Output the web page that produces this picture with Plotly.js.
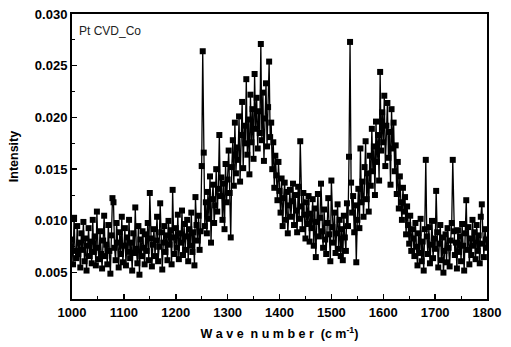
<!DOCTYPE html>
<html>
<head>
<meta charset="utf-8">
<script src="https://cdn.plot.ly/plotly-3.0.1.min.js"></script>
<style>html,body{margin:0;padding:0;background:#fff;}#chart{width:511px;height:347px;}</style>
</head>
<body>
<div id="chart"></div>
<script>
// Wave number start / step (cm^-1)
const waveStart = 1000;
const waveStep = 2;
// Intensity values, one per 2 cm^-1 from 1000 to 1800
const intensity1000 = [0.0082,0.0058,0.0103,0.0071,0.0064,0.0095,0.0068,0.0079,0.0055,0.0088,
  0.0072,0.0099,0.0061,0.0083,0.0052,0.0076,0.0093,0.0066,0.0080,0.0059,
  0.0101,0.0070,0.0085,0.0057,0.0109,0.0074,0.0063,0.0090,0.0068,0.0054,
  0.0081,0.0105,0.0066,0.0077,0.0058,0.0096,0.0071,0.0049,0.0086,0.0122,
  0.0118,0.0074,0.0062,0.0098,0.0079,0.0055,0.0089,0.0068,0.0104,0.0060];
const intensity1100 = [0.0076,0.0093,0.0057,0.0084,0.0070,0.0101,0.0064,0.0079,0.0052,0.0088,
  0.0069,0.0113,0.0073,0.0059,0.0095,0.0048,0.0082,0.0066,0.0090,0.0074,
  0.0058,0.0087,0.0071,0.0098,0.0062,0.0127,0.0083,0.0056,0.0077,0.0092,
  0.0066,0.0081,0.0104,0.0061,0.0075,0.0117,0.0089,0.0053,0.0079,0.0095,
  0.0070,0.0086,0.0062,0.0100,0.0077,0.0091,0.0058,0.0130,0.0084,0.0068];
const intensity1200 = [0.0093,0.0074,0.0106,0.0063,0.0088,0.0079,0.0110,0.0067,0.0097,0.0072,
  0.0085,0.0101,0.0061,0.0092,0.0076,0.0108,0.0070,0.0089,0.0057,0.0123,
  0.0096,0.0081,0.0105,0.0072,0.0090,0.0153,0.0264,0.0166,0.0095,0.0118,
  0.0088,0.0128,0.0102,0.0143,0.0079,0.0121,0.0135,0.0098,0.0115,0.0150,
  0.0109,0.0131,0.0183,0.0124,0.0142,0.0101,0.0136,0.0092,0.0155,0.0118];
const intensity1300 = [0.0140,0.0168,0.0127,0.0084,0.0152,0.0178,0.0134,0.0195,0.0146,0.0171,
  0.0159,0.0201,0.0138,0.0183,0.0215,0.0151,0.0192,0.0175,0.0237,0.0164,
  0.0198,0.0145,0.0222,0.0176,0.0208,0.0160,0.0242,0.0189,0.0219,0.0170,
  0.0206,0.0185,0.0271,0.0178,0.0224,0.0158,0.0199,0.0233,0.0172,0.0210,
  0.0254,0.0181,0.0195,0.0150,0.0176,0.0132,0.0163,0.0144,0.0120,0.0157];
const intensity1400 = [0.0129,0.0108,0.0141,0.0095,0.0122,0.0137,0.0101,0.0128,0.0088,0.0115,
  0.0130,0.0104,0.0119,0.0136,0.0096,0.0125,0.0110,0.0089,0.0133,0.0102,
  0.0177,0.0114,0.0092,0.0127,0.0106,0.0083,0.0118,0.0097,0.0124,0.0080,
  0.0107,0.0093,0.0121,0.0076,0.0112,0.0065,0.0099,0.0126,0.0085,0.0103,
  0.0136,0.0090,0.0074,0.0111,0.0082,0.0068,0.0098,0.0122,0.0087,0.0061];
const intensity1500 = [0.0139,0.0094,0.0079,0.0108,0.0069,0.0088,0.0116,0.0073,0.0101,0.0066,
  0.0092,0.0062,0.0105,0.0084,0.0071,0.0117,0.0095,0.0162,0.0273,0.0137,
  0.0108,0.0124,0.0089,0.0115,0.0060,0.0101,0.0131,0.0093,0.0170,0.0118,
  0.0138,0.0104,0.0152,0.0177,0.0121,0.0146,0.0109,0.0163,0.0134,0.0189,
  0.0148,0.0172,0.0125,0.0196,0.0157,0.0183,0.0139,0.0244,0.0168,0.0205];
const intensity1600 = [0.0176,0.0221,0.0153,0.0192,0.0214,0.0161,0.0186,0.0135,0.0208,0.0170,
  0.0195,0.0148,0.0173,0.0126,0.0157,0.0112,0.0143,0.0118,0.0101,0.0132,
  0.0109,0.0123,0.0087,0.0114,0.0096,0.0078,0.0105,0.0071,0.0092,0.0083,
  0.0066,0.0098,0.0075,0.0057,0.0088,0.0069,0.0102,0.0061,0.0080,0.0052,
  0.0092,0.0159,0.0085,0.0068,0.0094,0.0059,0.0077,0.0100,0.0064,0.0083];
const intensity1700 = [0.0073,0.0129,0.0089,0.0055,0.0078,0.0096,0.0062,0.0084,0.0050,0.0071,
  0.0087,0.0060,0.0093,0.0074,0.0056,0.0081,0.0098,0.0159,0.0090,0.0067,
  0.0079,0.0054,0.0091,0.0070,0.0085,0.0061,0.0097,0.0076,0.0052,0.0088,
  0.0120,0.0072,0.0094,0.0058,0.0083,0.0067,0.0101,0.0076,0.0089,0.0063,
  0.0096,0.0071,0.0086,0.0059,0.0104,0.0116,0.0078,0.0065,0.0092,0.0082,
  0.0074];
const xTickVals = [1000,1100,1200,1300,1400,1500,1600,1700,1800];
const yTickVals = [0.005,0.010,0.015,0.020,0.025,0.030];
const sampleLabel = "Pt CVD_Co";

const intensity = [].concat(intensity1000, intensity1100, intensity1200, intensity1300,
  intensity1400, intensity1500, intensity1600, intensity1700);
const wave = intensity.map((_, i) => waveStart + i * waveStep);

const fam = 'Liberation Sans, Arial, sans-serif';
const tickFont = {family: fam, size: 13, color: '#000', weight: 'bold'};

const trace = {
  x: wave, y: intensity, type: 'scatter', mode: 'lines+markers',
  line: {color: '#000', width: 1.3},
  marker: {symbol: 'square', size: 6, color: '#000'},
  hoverinfo: 'none'
};

const layout = {
  width: 511, height: 347,
  margin: {l: 72, r: 24, t: 14, b: 48, pad: 0},
  paper_bgcolor: '#fff', plot_bgcolor: '#fff',
  showlegend: false,
  xaxis: {
    range: [1000, 1800], tickvals: xTickVals, ticktext: xTickVals.map(String),
    showline: true, mirror: true, linecolor: '#000', linewidth: 2,
    ticks: 'inside', ticklen: 5, tickwidth: 1.5, tickcolor: '#000',
    minor: {ticks: 'inside', ticklen: 3, dtick: 50, tick0: 1000, tickcolor: '#000', tickwidth: 1},
    showgrid: false, zeroline: false, tickfont: tickFont,
    title: {text: 'W a v e  n u m b e r  (c m<sup>-1</sup>)', font: {family: fam, size: 12.5, color: '#000', weight: 'bold'}, standoff: 11}
  },
  yaxis: {
    range: [0.00245, 0.0300], tickvals: yTickVals, ticktext: yTickVals.map(v => v.toFixed(3)),
    showline: true, mirror: true, linecolor: '#000', linewidth: 2,
    ticks: 'inside', ticklen: 5, tickwidth: 1.5, tickcolor: '#000',
    minor: {ticks: 'inside', ticklen: 3, dtick: 0.0025, tick0: 0, tickcolor: '#000', tickwidth: 1},
    showgrid: false, zeroline: false, tickfont: tickFont,
    title: {text: 'Intensity', font: {family: fam, size: 12.5, color: '#000', weight: 'bold'}, standoff: 13}
  },
  annotations: [{
    text: sampleLabel, xref: 'paper', yref: 'paper', x: 0.013, y: 0.94,
    xanchor: 'left', yanchor: 'middle', showarrow: false,
    font: {family: fam, size: 12, color: '#222'}
  }]
};

Plotly.newPlot('chart', [trace], layout, {staticPlot: true, displayModeBar: false});
</script>
</body>
</html>
